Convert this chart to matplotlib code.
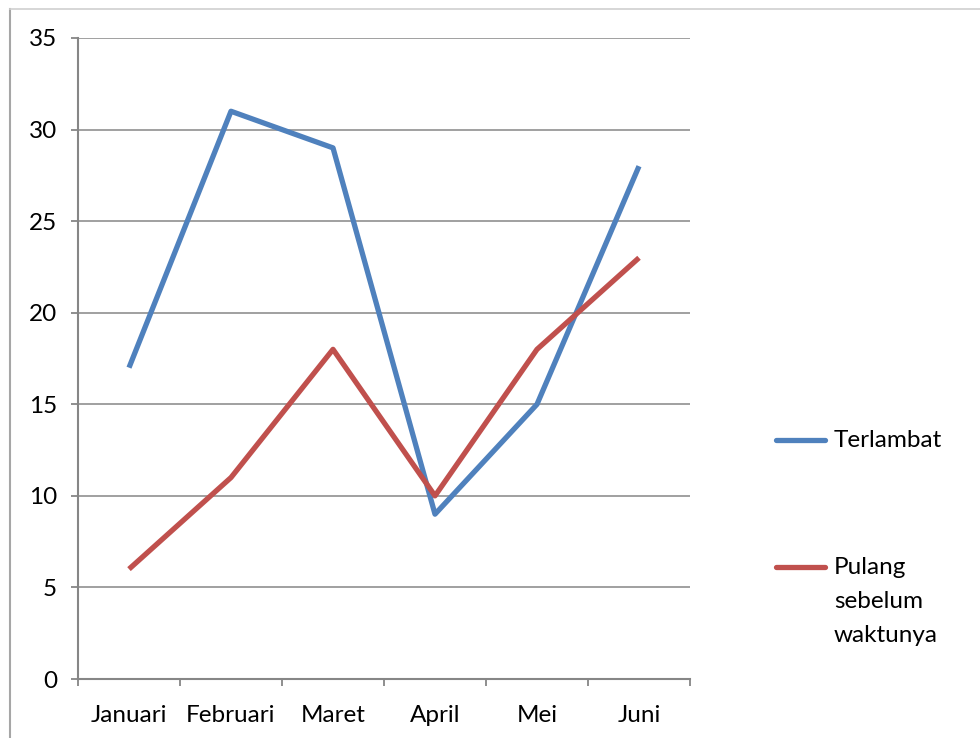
import matplotlib.pyplot as plt
from matplotlib.lines import Line2D

bulan = ['Januari', 'Februari', 'Maret', 'April', 'Mei', 'Juni']
terlambat = [17, 31, 29, 9, 15, 28]
pulang = [6, 11, 18, 10, 18, 23]
y_ticks = [0, 5, 10, 15, 20, 25, 30, 35]

plt.rcParams['font.family'] = ['Lato', 'DejaVu Sans']
FS = 17.5

fig = plt.figure(figsize=(9.8, 7.38), dpi=100)
ax = fig.add_axes([78 / 980, 1 - 679 / 738, 612 / 980, 641 / 738])

x = list(range(len(bulan)))
l1, = ax.plot(x, terlambat, color='#4F81BD', lw=3.8, solid_capstyle='butt')
l2, = ax.plot(x, pulang, color='#C0504D', lw=3.8, solid_capstyle='butt')

ax.set_xlim(-0.5, len(bulan) - 0.5)
ax.set_ylim(0, 35)
ax.set_yticks(y_ticks)
ax.set_yticklabels([str(v) for v in y_ticks], fontsize=FS)
ax.yaxis.grid(True, color='#868686', lw=1.1)
ax.set_axisbelow(True)

# category labels centred, tick marks on boundaries
ax.set_xticks(x)
ax.set_xticklabels(bulan, fontsize=FS)
ax.tick_params(axis='x', which='major', length=0, pad=19)
ax.set_xticks([i - 0.5 for i in range(len(bulan) + 1)], minor=True)
ax.tick_params(axis='x', which='minor', length=5, width=1.3, color='#868686', direction='out')
ax.tick_params(axis='y', length=5, width=1.3, color='#868686', pad=10)

for s in ['top', 'right']:
    ax.spines[s].set_visible(False)
for s in ['left', 'bottom']:
    ax.spines[s].set_color('#868686')
    ax.spines[s].set_linewidth(1.5)

# legend drawn by hand so the handle sits on the first text line
entries = [(l1, 'Terlambat', 440), (l2, 'Pulang\nsebelum\nwaktunya', 567)]
for line, label, ypix in entries:
    yf = 1 - ypix / 738
    fig.add_artist(Line2D([776 / 980, 825 / 980], [yf, yf], color=line.get_color(),
                          lw=3.8, solid_capstyle='round'))
    for i, part in enumerate(label.split('\n')):
        fig.text(834 / 980, 1 - (ypix + 7 + i * 34) / 738, part, fontsize=FS,
                 va='baseline', ha='left')

# outer chart frame
fig.add_artist(Line2D([10 / 980, 10 / 980], [0, 1 - 9 / 738], color='#a6a6a6', lw=1.5))
fig.add_artist(Line2D([10 / 980, 1], [1 - 9 / 738, 1 - 9 / 738], color='#d0d0d0', lw=1.2))

fig.savefig('out.png', dpi=100)
